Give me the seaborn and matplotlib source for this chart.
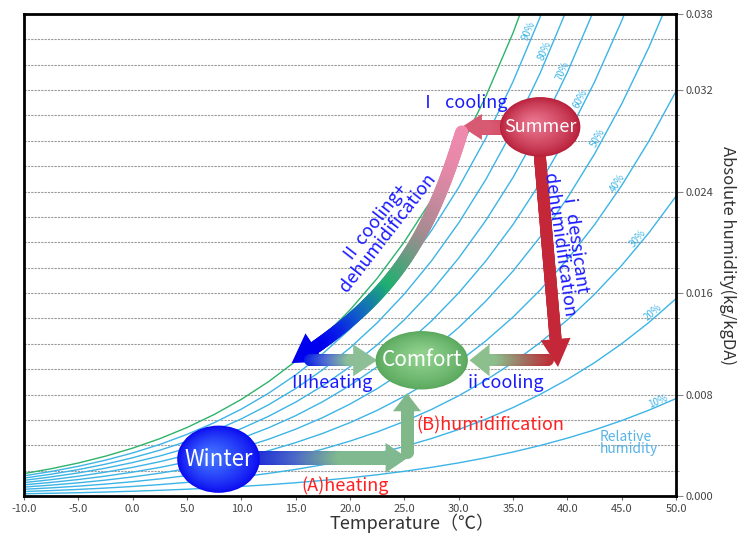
import numpy as np
import pandas as pd
import matplotlib
matplotlib.use("Agg")
import matplotlib.pyplot as plt
import matplotlib.transforms as mtrans
import seaborn as sns
from matplotlib.collections import LineCollection
from matplotlib.patches import Ellipse, Polygon
from matplotlib.colors import LinearSegmentedColormap, to_rgb
from matplotlib.ticker import MultipleLocator

# saturation vapour pressure table (kPa) used for the psychrometric curves
temp_c = [-10.0, -7.5, -5.0, -2.5, 0.0, 2.5, 5.0, 7.5, 10.0, 12.5, 15.0, 17.5, 20.0,
          22.5, 25.0, 27.5, 30.0, 32.5, 35.0, 37.5, 40.0, 42.5, 45.0, 47.5, 50.0]
p_sat = [0.287, 0.349, 0.422, 0.509, 0.611, 0.731, 0.872, 1.036, 1.226, 1.447, 1.702,
         1.996, 2.334, 2.720, 3.162, 3.665, 4.237, 4.885, 5.617, 6.444, 7.375, 8.419,
         9.592, 10.900, 12.360]
P_ATM = 101.325

rh_levels = [10, 20, 30, 40, 50, 60, 70, 80, 90, 100]
rh_label_temp = [48.5, 48.2, 46.8, 45.0, 43.2, 41.6, 40.0, 38.3, 36.9]

x_ticks = [-10, -5, 0, 5, 10, 15, 20, 25, 30, 35, 40, 45, 50]
y_ticks = [0.000, 0.008, 0.016, 0.024, 0.032, 0.038]

# air states (temperature, absolute humidity)
summer = (37.5, 0.0291)
comfort = (26.6, 0.0107)
winter = (7.9, 0.0029)

FONT = ['Noto Sans CJK JP', 'DejaVu Sans']
RH_BLUE = '#3db4e6'


def abs_hum(rh, ps):
    pw = rh / 100.0 * ps
    return 0.622 * pw / (P_ATM - pw)


rows = []
for rh in rh_levels:
    for t, ps in zip(temp_c, p_sat):
        rows.append({'rh': rh, 'temp': t, 'x': abs_hum(rh, ps)})
df = pd.DataFrame(rows)

sns.set_theme(style="white")
plt.rcParams['font.family'] = FONT

fig = plt.figure(figsize=(7.46, 5.43), dpi=100)
ax = fig.add_axes([24 / 746, 47 / 543, 652 / 746, 482 / 543])

pal = {rh: RH_BLUE for rh in rh_levels}
pal[100] = '#2db36a'
sns.lineplot(data=df, x='temp', y='x', hue='rh', palette=pal, legend=False,
             linewidth=1.0, ax=ax, zorder=2)

ax.set_xlim(-10, 50)
ax.set_ylim(0, 0.038)
ax.set_xticks(x_ticks)
ax.set_xticklabels([f"{v:.1f}" for v in x_ticks], fontsize=8, color='#444444')
ax.yaxis.tick_right()
ax.yaxis.set_label_position('right')
ax.set_yticks(y_ticks)
ax.set_yticklabels([f"{v:.3f}" for v in y_ticks], fontsize=8, color='#444444')
ax.yaxis.set_minor_locator(MultipleLocator(0.002))
ax.tick_params(axis='x', bottom=True, length=3, width=0.8, color='#666666', pad=3)
ax.tick_params(axis='y', which='major', right=True, length=5, width=0.8, color='#888888', pad=2)
ax.tick_params(axis='y', which='minor', right=True, length=2, width=0.6, color='#888888')
ax.grid(axis='y', which='both', color='#9a9a9a', linestyle=(0, (2, 1)), linewidth=0.8, zorder=1)
ax.grid(axis='x', visible=False)
for sp in ax.spines.values():
    sp.set_color('black')
    sp.set_linewidth(2.0)
ax.set_xlabel('Temperature（℃）', fontsize=13, color='#333333')
ax.xaxis.set_label_coords(0.595, -0.036)
ax.set_ylabel('Absolute humidity(kg/kgDA)', fontsize=12, color='#333333',
              rotation=270, labelpad=16)

# relative humidity labels along the curves
for rh, t in zip(rh_levels[:-1], rh_label_temp):
    ps = np.interp(t, temp_c, p_sat)
    ps2 = np.interp(t + 0.5, temp_c, p_sat)
    p1 = ax.transData.transform((t, abs_hum(rh, ps)))
    p2 = ax.transData.transform((t + 0.5, abs_hum(rh, ps2)))
    ang = np.degrees(np.arctan2(p2[1] - p1[1], p2[0] - p1[0]))
    ax.text(t, abs_hum(rh, ps), f"{rh}%", fontsize=7, color=RH_BLUE, rotation=ang,
            rotation_mode='anchor', ha='center', va='bottom', zorder=3)

ax.text(43.0, 0.0052, 'Relative\nhumidity', fontsize=10, color='#5ab4e6',
        va='top', ha='left', linespacing=0.85, zorder=3)

IDT = mtrans.IdentityTransform()


def grad_arrow(pts, colors, width, head_w, head_l, z=5):
    disp = ax.transData.transform(np.asarray(pts, dtype=float))
    seg = np.hypot(*np.diff(disp, axis=0).T)
    s = np.concatenate([[0], np.cumsum(seg)])
    tip = disp[-1]
    length = s[-1]
    ss = np.linspace(0, length - head_l, 150)
    px = np.interp(ss, s, disp[:, 0])
    py = np.interp(ss, s, disp[:, 1])
    cmap = LinearSegmentedColormap.from_list('g', colors)
    segs = [[(px[i], py[i]), (px[i + 1], py[i + 1])] for i in range(len(px) - 1)]
    cols = [cmap(i / (len(segs) - 1)) for i in range(len(segs))]
    lc = LineCollection(segs, colors=cols, linewidths=width * 0.72,
                        capstyle='round', transform=IDT, zorder=z)
    ax.add_collection(lc)
    base = np.array([px[-1], py[-1]])
    d = tip - base
    d = d / np.hypot(*d)
    perp = np.array([-d[1], d[0]])
    tri = [tip, base + perp * head_w / 2, base - perp * head_w / 2]
    ax.add_patch(Polygon(tri, closed=True, facecolor=cmap(1.0), edgecolor='none',
                         transform=IDT, zorder=z))


def bezier(p0, c1, c2, p3, n=80):
    tt = np.linspace(0, 1, n)[:, None]
    p0, c1, c2, p3 = map(np.asarray, (p0, c1, c2, p3))
    return (1 - tt) ** 3 * p0 + 3 * (1 - tt) ** 2 * tt * c1 + 3 * (1 - tt) * tt ** 2 * c2 + tt ** 3 * p3


def blob(center, w, h, edge, light, label, fs, shift=(0, 0)):
    n = 30
    e_rgb, l_rgb = np.array(to_rgb(edge)), np.array(to_rgb(light))
    for i in range(n):
        f = i / n
        c = e_rgb + (l_rgb - e_rgb) * f ** 0.8
        cx = center[0] + shift[0] * f
        cy = center[1] + shift[1] * f
        ax.add_patch(Ellipse((cx, cy), w * (1 - 0.85 * f), h * (1 - 0.85 * f),
                             facecolor=c, edgecolor='none', zorder=6))
    ax.text(center[0], center[1], label, fontsize=fs, color='white', ha='center',
            va='center', zorder=7)


# I cooling
grad_arrow([(summer[0] - 3.0, summer[1]), (30.3, summer[1])], ['#d04860', '#d85a72'], 15, 26, 20)
# II cooling + dehumidification
curve = bezier((30.28, 0.0287), (26.96, 0.0194), (23.22, 0.0152), (14.63, 0.01048))
grad_arrow(curve, [(0.0, '#f08aae'), (0.18, '#e488a8'), (0.42, '#a88a92'), (0.66, '#20b070'),
                   (0.82, '#1060c8'), (0.92, '#0a1ee8'), (1.0, '#0000ee')],
           13, 34, 28)
# III heating
grad_arrow([(16.3, comfort[1]), (22.5, comfort[1])], ['#0a1ee8', '#5070d0', '#8cbf96'], 12, 32, 24)
# i dessicant dehumidification
grad_arrow([(37.48, 0.0267), (39.14, 0.01017)], ['#c42838', '#c42838'], 12, 30, 28)
# ii cooling
grad_arrow([(38.2, comfort[1]), (31.0, comfort[1])], ['#c02a36', '#a07060', '#8cbf8c'], 12, 32, 20)
# (A) heating
grad_arrow([(11.5, 0.0030), (25.3, 0.0030)], ['#1a28d8', '#4a68c8', '#80b890', '#80b890'], 14, 30, 22)
# (B) humidification
grad_arrow([(25.24, 0.0035), (25.24, 0.0081)], ['#80b88a', '#80b88a'], 13, 28, 18)

blob(summer, 7.4, 0.0047, '#b8203a', '#e8708a', 'Summer', 13, shift=(-0.6, 0.0003))
blob(comfort, 8.5, 0.0046, '#5aa85e', '#8ed08c', 'Comfort', 15, shift=(0, 0.0004))
blob(winter, 7.6, 0.0053, '#0a0af0', '#4070ff', 'Winter', 16, shift=(-0.8, 0.0002))

blue = '#1a1aff'
red = '#ff2020'
ax.text(30.4, 0.0310, 'Ⅰ  cooling', fontsize=13, color=blue, ha='center', va='center', zorder=8)
ax.text(18.3, 0.0089, 'Ⅲheating', fontsize=13, color=blue, ha='center', va='center', zorder=8)
ax.text(34.2, 0.0089, 'ⅱcooling', fontsize=13, color=blue, ha='center', va='center', zorder=8)
ax.text(22.9, 0.0211, 'Ⅱ cooling+\ndehumidification', fontsize=13, color=blue, ha='center',
        va='center', rotation=52, linespacing=0.85, zorder=8)
ax.text(40.0, 0.0199, 'ⅰ dessicant\ndehumidification', fontsize=13, color=blue, ha='center',
        va='center', rotation=-82, linespacing=0.85, zorder=8)
ax.text(32.9, 0.0056, '(B)humidification', fontsize=13, color=red, ha='center', va='center', zorder=8)
ax.text(19.5, 0.0008, '(A)heating', fontsize=13, color=red, ha='center', va='center', zorder=8)

fig.savefig('out.png', dpi=100, facecolor='white')
